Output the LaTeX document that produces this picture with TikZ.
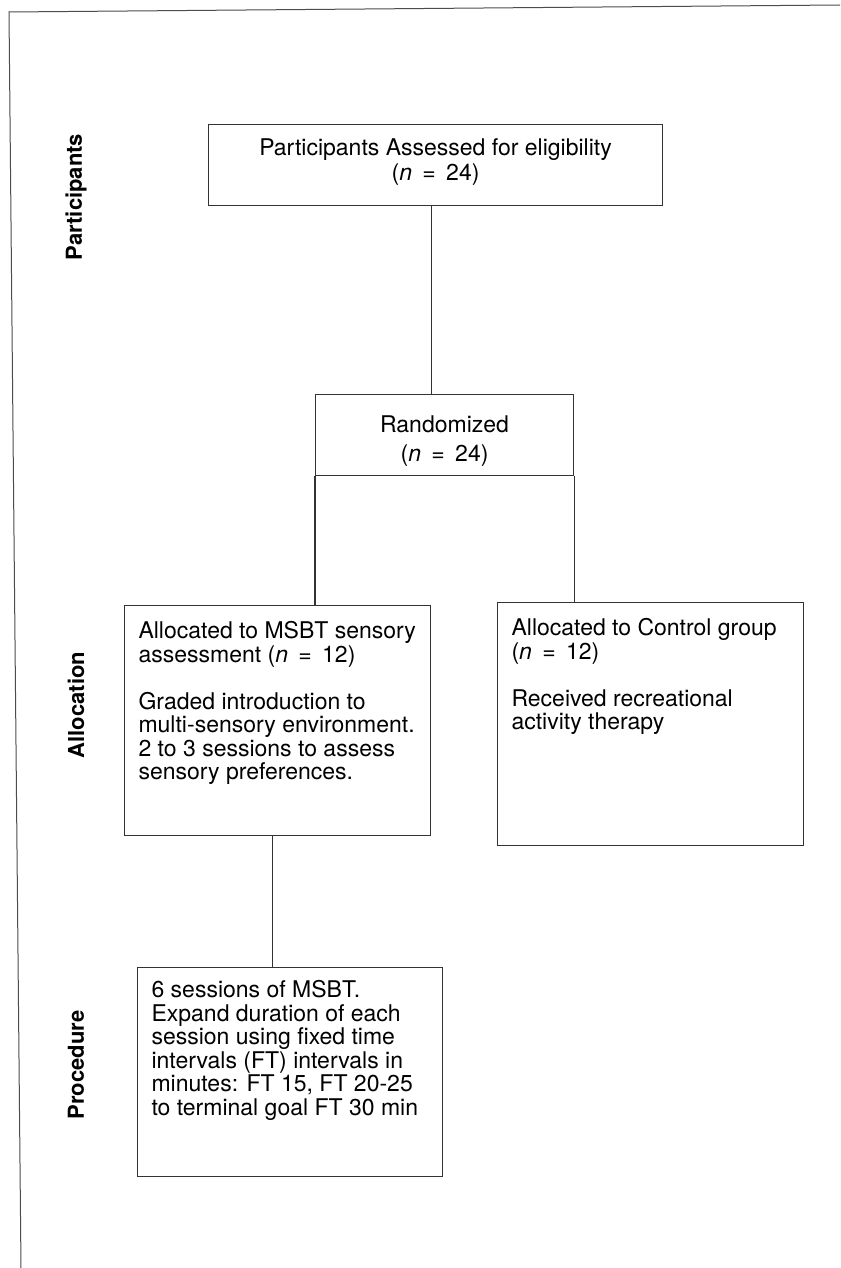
\documentclass[tikz,border=0pt]{standalone}
\usepackage{fontspec}
\setmainfont{TeX Gyre Heros}

\newcommand{\boxfont}{\fontsize{23}{23.5}\selectfont}
\newcommand{\labelfont}{\fontsize{22}{24}\selectfont\bfseries}
\newcommand{\boxtext}[4]{\parbox[c][#1][t]{#2}{\vspace*{#3}#4}}
\newcommand{\nval}[1]{(\textit{n}\hspace{0.45em}=\hspace{0.45em}#1)}

\begin{document}
\begin{tikzpicture}[x=1pt, y=-1pt,
    box/.style={draw=black!80, line width=1.1pt, inner xsep=14pt, inner ysep=0pt, font=\boxfont},
    link/.style={draw=black!80, line width=1.1pt},
    side label/.style={rotate=90, font=\labelfont},
    frame/.style={draw=black!70, line width=1pt}]
  \useasboundingbox (0,0) rectangle (840,1268);

  \coordinate (corner) at (9,12);
  \draw[frame] (840,5) -- (corner) -- (21,1268);

  \foreach \lbl/\ypos in {Participants/197, Allocation/705, Procedure/1065}{
    \node[side label] (lbl-\lbl) at (76,\ypos) {\lbl};
  }

  \node[box, anchor=north west] (assess) at (208,124)
    {\boxtext{81pt}{426pt}{14.5pt}{\centering Participants Assessed for eligibility\\[1.5pt] \nval{24}}};
  \node[box, anchor=north west] (random) at (315,394)
    {\boxtext{81pt}{230pt}{21.5pt}{\centering Randomized\\[5.5pt] \nval{24}}};
  \node[box, anchor=north west] (msbt) at (124,605)
    {\boxtext{230pt}{278pt}{16pt}{\raggedright Allocated to MSBT sensory\\ assessment \nval{12}\\[23.5pt]
      Graded introduction to\\ multi-sensory environment.\\ 2 to 3 sessions to assess\\ sensory preferences.}};
  \node[box, anchor=north west] (ctrl) at (497,602)
    {\boxtext{243pt}{278pt}{16pt}{\raggedright Allocated to Control group\\ \nval{12}\\[23.5pt]
      Received recreational\\ activity therapy}};
  \node[box, anchor=north west] (proc) at (137,967)
    {\boxtext{209pt}{277pt}{13pt}{\raggedright 6 sessions of MSBT.\\ Expand duration of each\\ session using fixed time\\
      intervals (FT) intervals in\\ minutes: FT 15, FT 20-25\\ to terminal goal FT 30 min}};

  \draw[link] ([xshift=-4pt]assess.south) -- ([xshift=-4pt]assess.south |- random.north);
  \draw[link] (random.south west) -- (random.south west |- msbt.north);
  \draw[link] (random.south east) -- (random.south east |- ctrl.north);
  \draw[link] ([xshift=-5pt]msbt.south) -- ([xshift=-5pt]msbt.south |- proc.north);
\end{tikzpicture}
\end{document}
